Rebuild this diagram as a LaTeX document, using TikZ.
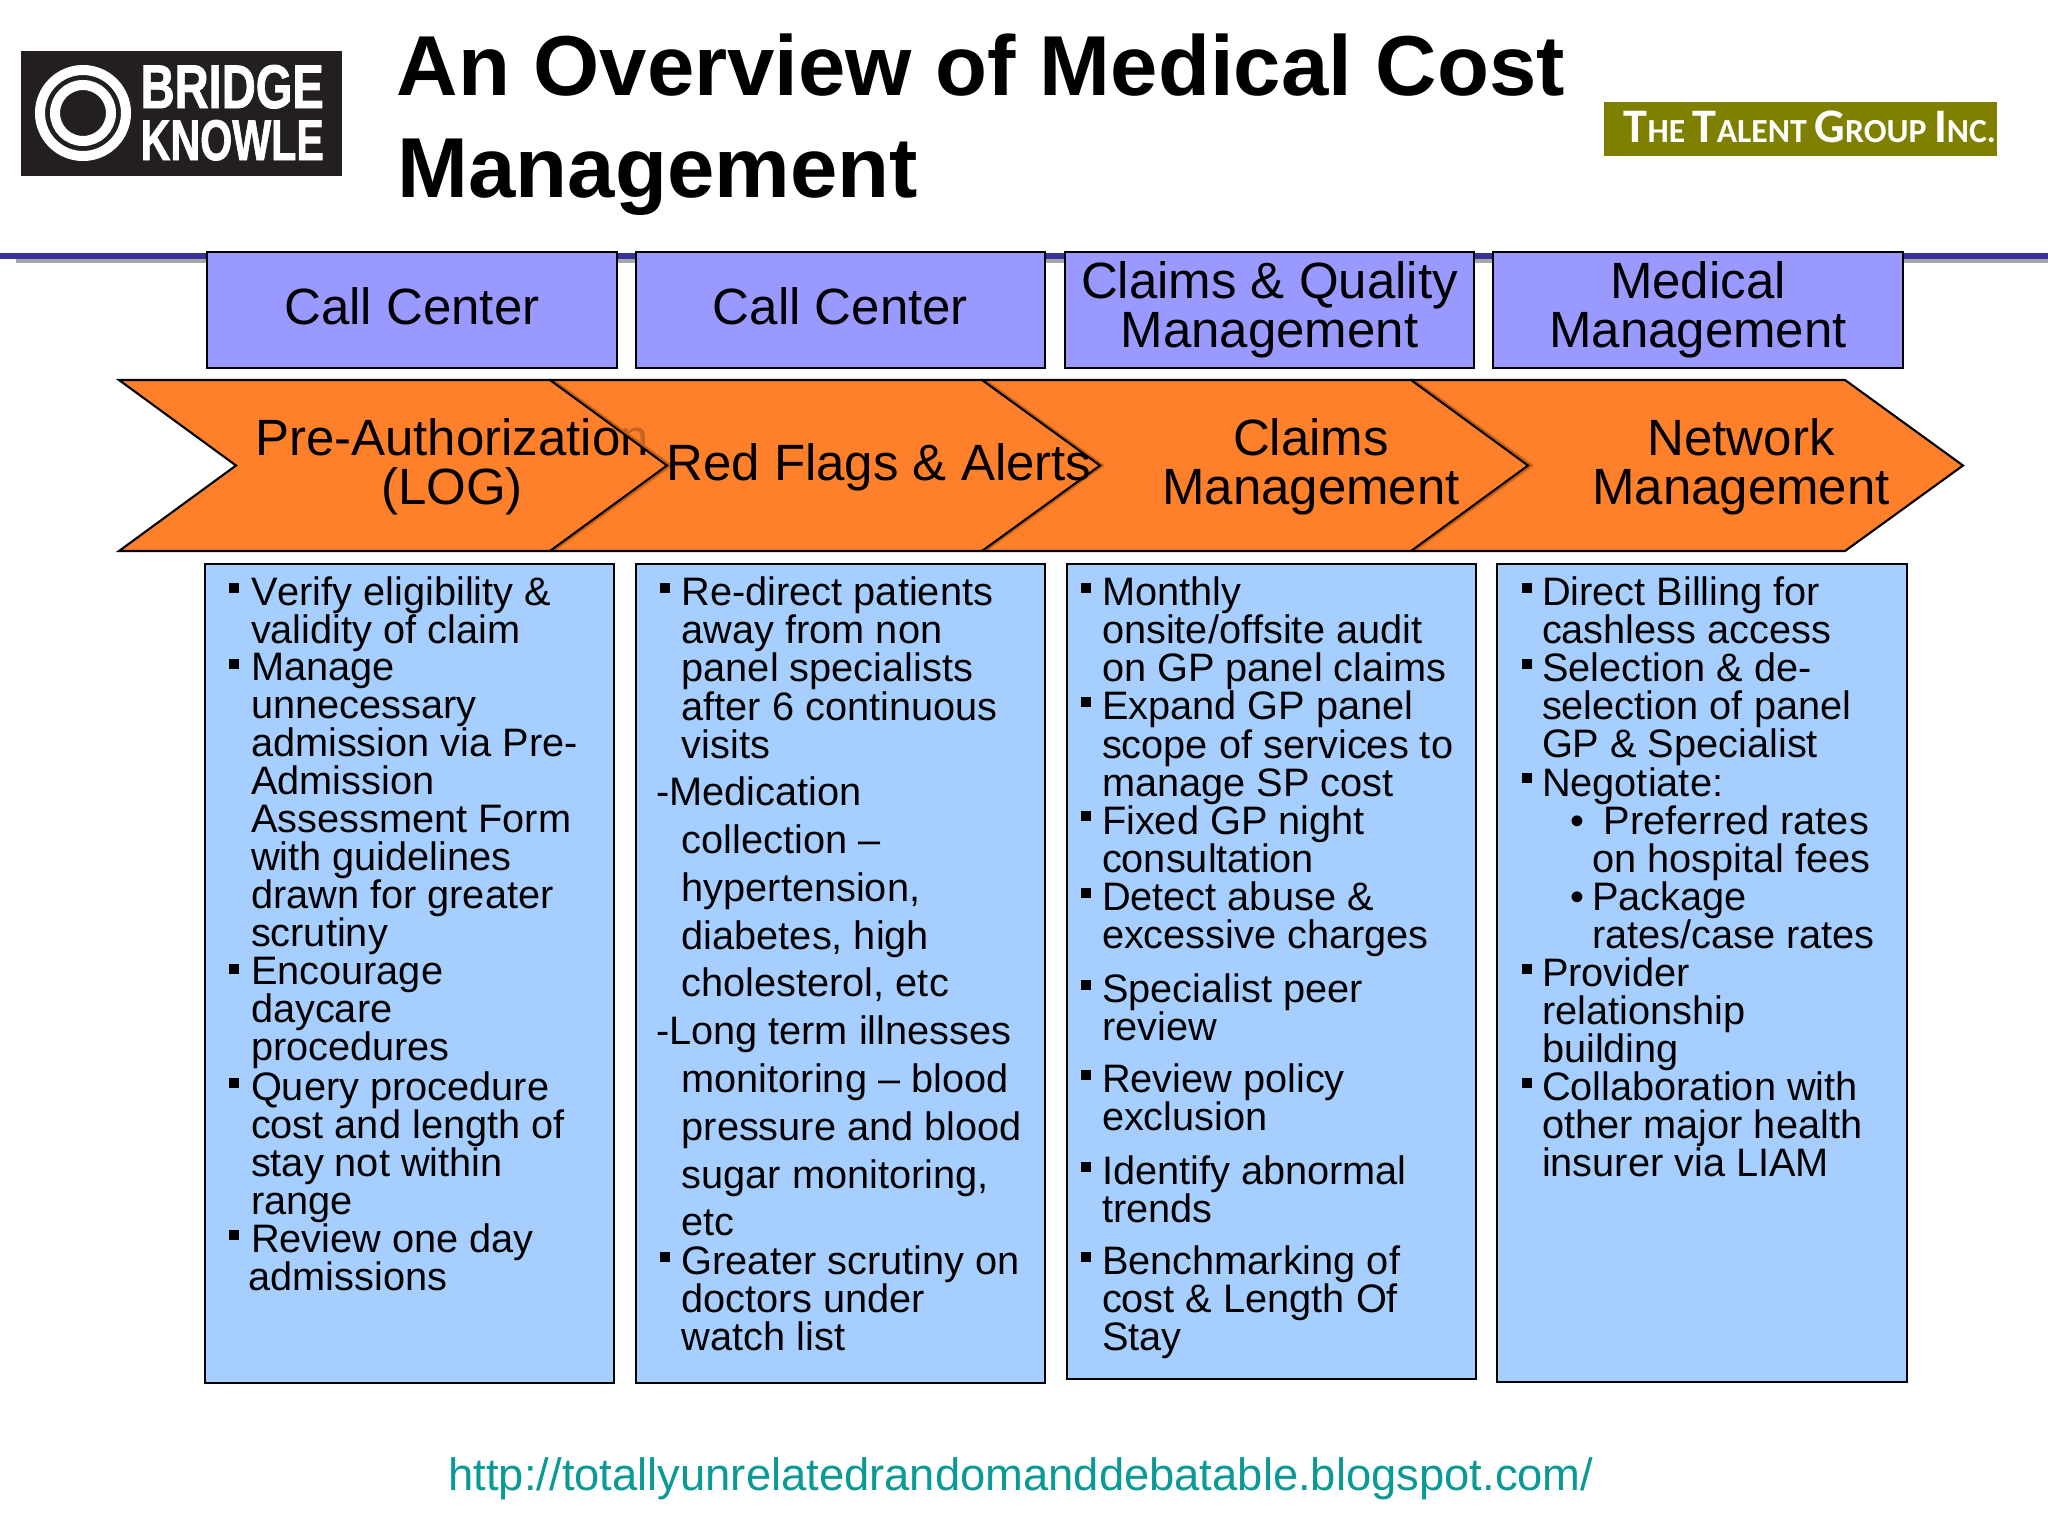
\documentclass[tikz,border=0pt]{standalone}
\usepackage{fontspec}
\setmainfont[Kerning=Off]{Liberation Sans}
\newfontfamily\talentfont{Carlito}
\newfontfamily\logofont[BoldFont={Liberation Sans Bold},BoldFeatures={FakeBold=1.5}]{Liberation Sans}
\definecolor{headblue}{HTML}{9999FF}
\definecolor{bodyblue}{HTML}{A6CFFF}
\definecolor{arroworange}{HTML}{FF802B}
\definecolor{arrowshade}{HTML}{C8600F}
\definecolor{ruleblue}{HTML}{333399}
\definecolor{logoblack}{HTML}{231F20}
\definecolor{talentolive}{HTML}{808000}
\definecolor{urlteal}{HTML}{0A9A96}
\newcommand{\talentcap}[1]{{\fontsize{13.3}{14}\selectfont #1}}
\begin{document}
\begin{tikzpicture}[x=0.01cm, y=-0.01cm,
  titletext/.style={anchor=base west, align=left, inner sep=0pt, font=\fontsize{24.2}{29}\selectfont\bfseries},
  headbox/.style={draw=black, line width=0.6pt, fill=headblue, minimum width=4.09cm, minimum height=1.16cm, inner sep=0pt, align=center, font=\fontsize{14.5}{14.1}\selectfont},
  singlehead/.style={headbox, text depth=2.4pt},
  doublehead/.style={headbox, execute at begin node={\rule{0pt}{11.4pt}}},
  arrowtext/.style={align=center, inner sep=0pt, font=\fontsize{14.5}{14}\selectfont},
  arrowline/.style={draw=black, line width=0.6pt, line join=miter},
  bodybox/.style={draw=black, line width=0.5pt, fill=bodyblue},
  itemtext/.style={anchor=north west, yshift=8.26pt, align=left, inner sep=0pt, outer sep=0pt, execute at begin node={\rule{0pt}{9pt}}, font=\fontsize{11.3}{10.83}\selectfont},
  looseitem/.style={itemtext, font=\fontsize{11.3}{13.6}\selectfont},
  bulletmark/.style={fill=black, inner sep=0pt, minimum size=0.1cm}]
\useasboundingbox (0,0) rectangle (2048,1536);
\fill[white] (0,0) rectangle (2048,1536);

% Logos
\fill[logoblack] (21,51) rectangle (342,176);
\draw[white, line width=2.85pt] (83,113) circle (43);
\draw[white, line width=2.85pt] (83,113) circle (28);
\node[anchor=base west, inner sep=0pt, white, font=\logofont\bfseries] (bridgeword) at (140,108) {\resizebox{1.83cm}{0.43cm}{BRIDGE}};
\node[anchor=base west, inner sep=0pt, white, font=\logofont\bfseries] (knowleword) at (140,160) {\resizebox{1.83cm}{0.40cm}{KNOWLE}};
\fill[talentolive] (1604,102) rectangle (1997,156);
\node[anchor=base west, inner sep=0pt, white, font=\talentfont\bfseries\fontsize{9.3}{14}\selectfont] (talentword) at (1623,142) {\resizebox{3.72cm}{!}{\talentcap{T}HE \talentcap{T}ALENT \talentcap{G}ROUP \talentcap{I}NC.}};

% Title
\node[titletext] (titletop) at (396,95) {An Overview of Medical Cost};
\node[titletext] (titlebottom) at (397,197) {Management};

% Rule under title
\fill[black!35] (16,258) rectangle (2048,263);
\fill[ruleblue] (0,253) rectangle (2048,259);

% Department headers
\node[singlehead] (callone) at (412,310) {Call Center};
\node[singlehead] (calltwo) at (840.5,310) {Call Center};
\node[doublehead] (claimshead) at (1269.5,310) {Claims \& Quality\\Management};
\node[doublehead] (medicalhead) at (1698,310) {Medical\\Management};

% Process arrows
\fill[arroworange] (119,380) -- (1845,380) -- (1963,465.5) -- (1845,551) -- (119,551) -- (236,465.5) -- cycle;
\node[arrowtext] (preauth) at (452,467) {Pre-Authorization\\(LOG)};
\fill[arroworange, fill opacity=0.78] (550,380) -- (982,380) -- (1100,465.5) -- (982,551) -- (550,551) -- (667,465.5) -- cycle;
\foreach \tipx in {550,982,1411}{
  \draw[arrowshade, line width=0.6pt] (\tipx+3,380) -- (\tipx+121,465.5) -- (\tipx+3,551);
}
\draw[arrowline] (119,380) -- (550,380) -- (667,465.5) -- (550,551) -- (119,551) -- (236,465.5) -- cycle;
\draw[arrowline] (550,380) -- (982,380) -- (1100,465.5) -- (982,551) -- (550,551);
\draw[arrowline] (982,380) -- (1411,380) -- (1528,465.5) -- (1411,551) -- (982,551);
\draw[arrowline] (1411,380) -- (1845,380) -- (1963,465.5) -- (1845,551) -- (1411,551);
\node[arrowtext] (redflags) at (879,467) {Red Flags \& Alerts};
\node[arrowtext] (claimsarrow) at (1311,467) {Claims\\Management};
\node[arrowtext] (networkarrow) at (1741,467) {Network\\Management};

% Detail boxes
\draw[bodybox] (205,564) rectangle (614,1383);
\draw[bodybox] (636,564) rectangle (1045,1383);
\draw[bodybox] (1067,564) rectangle (1476,1379);
\draw[bodybox] (1497,564) rectangle (1907,1382);

% First column
\foreach \itemname/\basey/\entry in {
  verify/606/{Verify eligibility \&\\validity of claim},
  manage/682/{Manage\\unnecessary\\admission via Pre-\\Admission\\Assessment Form\\with guidelines\\drawn for greater\\scrutiny},
  encourage/986.5/{Encourage\\daycare\\procedures},
  query/1100.7/{Query procedure\\cost and length of\\stay not within\\range},
  oneday/1252.9/{Review one day\\\hspace*{-0.7pt}admissions}}{
  \node[bulletmark] (\itemname mark) at (234,\basey-18) {};
  \node[itemtext] (\itemname) at (251,\basey) {\entry};
}

% Second column
\foreach \itemname/\basey/\entry in {
  redirect/606/{Re-direct patients\\away from non\\panel specialists\\after 6 continuous\\visits},
  scrutiny/1274.7/{Greater scrutiny on\\doctors under\\watch list}}{
  \node[bulletmark] (\itemname mark) at (665,\basey-18) {};
  \node[itemtext] (\itemname) at (681.7,\basey) {\entry};
}
\node[looseitem] (medication) at (656,805.8) {-Medication\\\hspace*{7.3pt}collection --\\\hspace*{7.3pt}hypertension,\\\hspace*{7.3pt}diabetes, high\\\hspace*{7.3pt}cholesterol, etc};
\node[looseitem] (longterm) at (656,1044.8) {-Long term illnesses\\\hspace*{7.3pt}monitoring -- blood\\\hspace*{7.3pt}pressure and blood\\\hspace*{7.3pt}sugar monitoring,\\\hspace*{7.3pt}etc};

% Third column
\foreach \itemname/\basey/\entry in {
  monthly/606/{Monthly\\onsite/offsite audit\\on GP panel claims},
  expand/720.2/{Expand GP panel\\scope of services to\\manage SP cost},
  nightfee/834.3/{Fixed GP night\\consultation},
  abuse/911/{Detect abuse \&\\excessive charges},
  peer/1003/{Specialist peer\\review},
  policy/1093/{Review policy\\exclusion},
  trends/1184.6/{Identify abnormal\\trends},
  benchmark/1274.7/{Benchmarking of\\cost \& Length Of\\Stay}}{
  \node[bulletmark] (\itemname mark) at (1086,\basey-18) {};
  \node[itemtext] (\itemname) at (1102,\basey) {\entry};
}

% Fourth column
\foreach \itemname/\basey/\entry in {
  billing/606/{Direct Billing for\\cashless access},
  selection/682/{Selection \& de-\\selection of panel\\GP \& Specialist},
  provider/986.5/{Provider\\relationship\\building},
  insurer/1100.7/{Collaboration with\\other major health\\insurer via LIAM}}{
  \node[bulletmark] (\itemname mark) at (1527,\basey-18) {};
  \node[itemtext] (\itemname) at (1542,\basey) {\entry};
}
\node[bulletmark] (negotiatemark) at (1527,778.3) {};
\node[itemtext] (negotiate) at (1542,793.7) {Negotiate:};
\node[itemtext] (preferreddot) at (1570,831.7) {•};
\node[itemtext] (preferred) at (1592,834.3) {\hspace*{3.4pt}Preferred rates\\on hospital fees};
\node[itemtext] (packagedot) at (1570,907.8) {•};
\node[itemtext] (package) at (1592,910.4) {Package\\rates/case rates};

% Address at the bottom
\node[anchor=base, inner sep=0pt, urlteal, font=\fontsize{12.9}{16}\selectfont] (address) at (1021,1490) {http://totallyunrelatedrandomanddebatable.blogspot.com/};
\end{tikzpicture}
\end{document}
